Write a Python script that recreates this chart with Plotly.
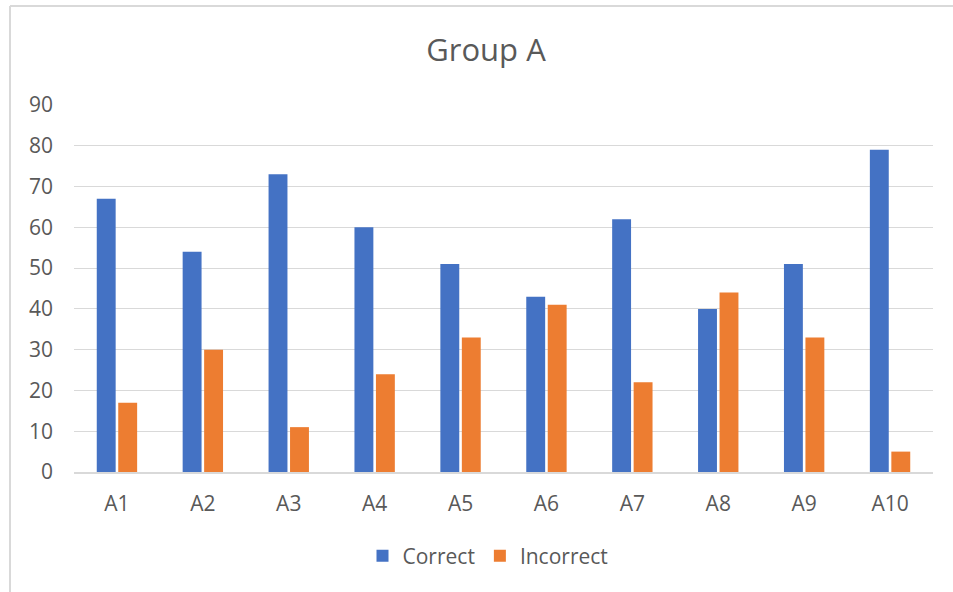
import plotly.graph_objects as go

categories = ["A1", "A2", "A3", "A4", "A5", "A6", "A7", "A8", "A9", "A10"]
correct = [67, 54, 73, 60, 51, 43, 62, 40, 51, 79]
incorrect = [17, 30, 11, 24, 33, 41, 22, 44, 33, 5]
y_ticks = [0, 10, 20, 30, 40, 50, 60, 70, 80, 90]

TEXT = "#595959"
GRID = "#d9d9d9"
FONT = "'Open Sans', Lato, sans-serif"

fig = go.Figure()
fig.add_trace(go.Bar(x=categories, y=correct, name="Correct",
                     marker=dict(color="#4472C4", line=dict(width=0))))
fig.add_trace(go.Bar(x=categories, y=incorrect, name="Incorrect",
                     marker=dict(color="#ED7D31", line=dict(width=0))))

# plot area spans x 74..933, y 105..472 px
L, R, T, B = 74, 20, 105, 120
W, H = 953, 592
pw, ph = W - L - R, H - T - B

def px_x(px):
    return (px - L) / pw

def px_y(py):
    return (H - B - py) / ph

fig.update_layout(
    width=W, height=H,
    margin=dict(l=L, r=R, t=T, b=B),
    paper_bgcolor="white", plot_bgcolor="white",
    barmode="group", bargap=0.5, bargroupgap=0.12,
    font=dict(family=FONT, color=TEXT, size=21),
    title=dict(text="Group A", xref="container", x=486 / W, xanchor="center",
               yref="container", y=1 - 50 / H, yanchor="middle",
               font=dict(size=31, color=TEXT, family=FONT)),
    showlegend=True,
    legend=dict(orientation="h", x=px_x(488), xanchor="center",
                y=px_y(556), yanchor="middle",
                font=dict(size=21, color=TEXT), itemwidth=30,
                traceorder="normal"),
    xaxis=dict(showgrid=False, showline=True, linecolor=GRID, linewidth=1.5,
               ticks="", ticklabelstandoff=12,
               tickfont=dict(size=21, color=TEXT), fixedrange=True),
    yaxis=dict(range=[0, 90], tickvals=y_ticks, showgrid=True, gridcolor=GRID,
               gridwidth=1.2, zeroline=False, showline=False, ticks="",
               ticklabelstandoff=20,
               tickfont=dict(size=21, color=TEXT), fixedrange=True),
    shapes=[
        dict(type="line", xref="paper", yref="paper",
             x0=px_x(10), x1=px_x(10), y0=px_y(6), y1=px_y(700),
             line=dict(color=GRID, width=2)),
        dict(type="line", xref="paper", yref="paper",
             x0=px_x(10), x1=px_x(1100), y0=px_y(6), y1=px_y(6),
             line=dict(color=GRID, width=2)),
    ],
)

fig.write_html("out.html", config={"displayModeBar": False})
